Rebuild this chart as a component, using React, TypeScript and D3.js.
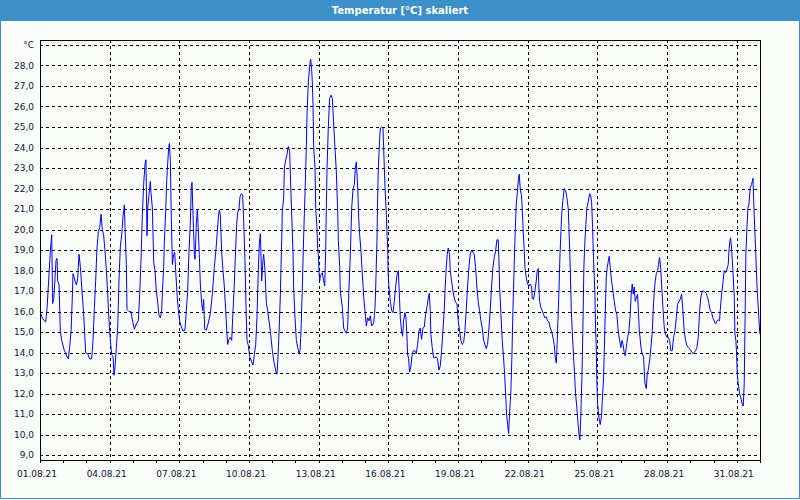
import { useEffect, useRef } from 'react';
import * as d3 from 'd3';

const chartTitle = 'Temperatur [°C] skaliert';
const unitLabel = '°C';
const startDate = new Date(2021, 7, 1);
const endDate = new Date(2021, 8, 1);
const yTicks = [9, 10, 11, 12, 13, 14, 15, 16, 17, 18, 19, 20, 21, 22, 23, 24, 25, 26, 27, 28];
const yMin = 8.77;
const yMax = 29.24;
const unitTickValue = 29;

// [hours since 01.08.21 00:00, temperature in °C]
const aug01to05: [number, number][] = [
  [0, 16.0], [2.4, 15.7], [4.5, 15.55], [5.9, 15.5], [7.3, 16.2], [9.3, 17.8], [10.7, 18.95], [12.1, 19.75],
  [13.1, 16.4], [14.2, 16.6], [16.6, 18.5], [17.6, 18.6], [18.3, 17.5], [19.7, 17.3], [21.0, 15.05], [22.4, 14.6],
  [25.2, 14.1], [27.9, 13.8], [29.3, 13.7], [30.7, 14.3], [32.1, 15.05], [33.4, 16.7], [34.1, 17.85], [36.2, 17.5],
  [37.6, 17.3], [38.9, 17.6], [40.3, 18.8], [41.7, 18.2], [43.1, 17.2], [45.1, 15.9], [47.2, 14.0], [49.3, 13.95],
  [51.3, 13.7], [53.4, 13.7], [54.8, 14.6], [56.2, 16.2], [57.5, 17.5], [58.9, 19.1], [60.3, 19.9], [61.7, 20.1],
  [63.1, 20.75], [64.4, 20.0], [65.8, 19.7], [67.2, 18.95], [68.6, 17.98], [70.0, 16.85], [71.3, 15.55], [72.7, 14.6],
  [74.1, 13.9], [75.5, 13.8], [76.5, 12.9], [77.5, 13.3], [78.9, 14.25], [80.3, 15.25], [81.6, 17.5], [83.0, 19.15],
  [84.4, 19.75], [85.8, 20.65], [87.2, 21.2], [87.8, 20.2], [89.2, 18.3], [89.9, 16.1], [92.0, 16.0], [94.0, 16.0],
  [95.4, 15.6], [97.5, 15.15], [99.6, 15.4], [101.6, 15.55], [103.0, 16.85], [104.4, 18.55], [105.8, 20.75], [107.1, 22.2],
  [108.5, 23.2], [109.5, 23.4], [110.6, 19.7], [111.3, 21.05], [112.6, 21.7], [114.0, 22.35], [114.7, 21.8], [116.1, 21.05],
  [117.5, 18.4], [118.8, 18.0], [120.2, 17.0], [121.6, 16.45],
];

const aug06to10: [number, number][] = [
  [123.0, 15.8], [124.4, 15.7], [125.7, 16.05], [126.4, 16.85], [127.8, 18.15], [128.5, 19.45], [129.9, 20.9], [130.9, 22.35],
  [131.9, 23.2], [133.0, 24.0], [133.7, 24.2], [134.7, 23.35], [135.7, 20.6], [136.8, 18.3], [138.1, 18.8], [139.2, 18.9],
  [140.2, 18.0], [141.6, 16.85], [143.0, 16.05], [144.3, 15.55], [145.7, 15.3], [147.8, 15.05], [149.8, 15.1], [151.2, 16.05],
  [152.6, 17.0], [154.0, 18.95], [155.4, 20.4], [156.4, 22.1], [157.1, 22.3], [158.1, 20.75], [159.5, 18.8], [160.2, 18.55],
  [161.6, 20.3], [162.6, 21.0], [163.6, 19.95], [164.6, 18.8], [165.7, 17.35], [167.1, 16.4], [168.1, 16.05], [169.1, 16.6],
  [170.2, 15.15], [171.9, 15.1], [173.9, 15.45], [176.0, 15.9], [178.1, 16.85], [180.1, 18.15], [181.9, 19.05], [182.9, 19.7],
  [184.3, 20.6], [185.3, 20.95], [186.3, 20.75], [187.7, 18.9], [189.1, 18.0], [190.5, 17.2], [191.9, 16.05], [193.2, 14.9],
  [193.9, 14.4], [195.3, 14.65], [196.7, 14.75], [198.1, 14.6], [199.1, 15.7], [200.5, 17.05], [201.8, 18.6], [203.2, 20.25],
  [204.3, 20.85], [205.6, 21.0], [206.7, 21.6], [208.0, 21.75], [209.4, 21.7], [210.5, 20.4], [211.8, 18.5], [212.9, 16.2],
  [213.9, 14.6], [215.3, 14.35], [216.7, 13.8], [218.7, 13.55], [220.1, 13.4], [221.5, 13.9], [222.9, 14.4], [224.2, 15.7],
  [225.6, 18.0], [226.6, 19.3], [227.7, 19.8], [229.1, 17.5], [230.4, 18.5], [231.1, 18.8], [232.5, 18.0], [233.9, 16.4],
  [235.3, 16.05], [236.6, 15.55], [238.0, 15.05], [240.1, 14.1], [242.1, 13.45], [243.9, 13.05], [244.9, 12.95], [245.9, 13.75],
  [247.0, 14.95],
];

const aug11to15: [number, number][] = [
  [248.4, 16.85], [249.7, 19.45], [250.4, 20.9], [251.8, 21.55], [252.5, 23.0], [253.9, 23.4], [255.2, 23.65], [256.6, 24.05],
  [258.0, 23.8], [258.7, 22.7], [260.1, 20.75], [261.4, 18.95], [262.1, 17.2], [263.5, 15.7], [264.9, 14.6], [266.3, 14.25],
  [267.6, 13.95], [268.7, 14.1], [269.7, 15.05], [271.1, 17.2], [272.5, 19.75], [273.8, 21.7], [275.2, 24.0], [275.9, 25.6],
  [277.3, 27.2], [278.7, 28.0], [279.7, 28.3], [280.7, 27.8], [281.4, 27.2], [282.1, 26.1], [282.8, 24.0], [284.2, 23.0],
  [284.9, 21.05], [286.2, 20.1], [286.9, 19.1], [287.6, 18.8], [288.3, 18.0], [289.0, 17.5], [289.7, 17.7], [290.4, 17.8],
  [291.8, 17.9], [293.1, 17.5], [294.2, 17.25], [295.2, 18.95], [295.9, 21.05], [296.6, 23.0], [297.9, 24.95], [299.3, 26.4],
  [300.7, 26.55], [302.1, 26.4], [303.5, 25.1], [304.8, 24.0], [306.2, 22.85], [307.6, 20.9], [308.3, 19.45], [309.7, 18.15],
  [310.3, 17.0], [312.4, 16.2], [313.8, 15.2], [315.2, 15.05], [316.5, 14.95], [317.9, 15.2], [319.3, 17.2], [320.7, 18.8],
  [322.1, 21.05], [323.4, 21.95], [324.8, 22.2], [325.8, 23.0], [326.9, 23.3], [328.3, 22.05], [329.3, 20.6], [330.3, 19.75],
  [331.7, 18.95], [333.1, 17.8], [334.5, 16.7], [335.8, 16.05], [337.2, 15.3], [338.6, 15.7], [340.0, 15.55], [341.3, 15.8],
  [342.7, 15.3], [344.8, 15.45], [346.2, 16.2], [346.9, 17.2], [348.2, 19.45], [348.9, 21.55], [349.6, 23.0], [351.0, 24.45],
  [351.7, 24.95], [353.1, 25.0], [354.4, 24.95], [355.1, 24.0], [356.5, 22.05], [357.9, 20.75], [358.6, 19.75], [359.3, 19.1],
  [359.6, 18.0], [360.6, 17.2], [362.0, 16.5], [363.4, 16.05], [364.8, 15.95], [366.1, 16.5], [367.5, 17.2], [368.9, 17.8],
  [370.3, 18.0],
];

const aug16to20: [number, number][] = [
  [371.2, 17.0], [372.3, 15.7], [373.6, 15.05], [374.7, 14.8], [375.7, 15.55], [377.1, 15.95], [378.1, 15.7], [379.1, 14.9],
  [379.8, 13.95], [380.9, 13.7], [381.9, 13.05], [383.3, 13.35], [384.7, 13.95], [386.0, 14.1], [387.4, 14.1], [388.8, 13.95],
  [390.2, 14.4], [391.5, 15.05], [392.9, 15.2], [394.3, 14.65], [395.7, 15.2], [397.1, 15.25], [398.4, 15.85], [399.8, 16.2],
  [401.2, 16.65], [402.2, 16.9], [403.3, 16.05], [403.9, 14.9], [405.3, 14.25], [406.7, 13.75], [408.1, 13.75], [409.5, 13.8],
  [410.8, 13.7], [412.2, 13.15], [413.6, 13.35], [415.0, 14.1], [416.3, 15.05], [417.7, 16.05], [418.7, 17.2], [419.8, 18.15],
  [420.8, 18.8], [421.8, 19.1], [423.2, 18.8], [423.9, 18.0], [425.3, 17.5], [426.7, 17.0], [428.0, 16.7], [429.4, 16.45],
  [430.8, 16.4], [432.2, 15.55], [433.6, 15.05], [434.9, 14.6], [436.3, 14.4], [437.7, 14.5], [439.1, 15.05], [440.4, 16.05],
  [441.8, 17.2], [443.2, 18.15], [444.6, 18.8], [446.0, 19.0], [447.3, 18.9], [448.7, 18.8], [450.1, 18.15], [451.5, 17.2],
  [452.8, 16.5], [454.2, 16.05], [455.6, 15.55], [457.0, 15.2], [458.4, 14.6], [459.7, 14.4], [461.1, 14.2], [462.5, 14.4],
  [463.9, 15.2], [465.2, 16.05], [466.6, 17.2], [468.0, 18.15], [469.4, 18.65], [470.8, 18.95], [472.1, 19.5], [473.5, 19.5],
  [474.2, 18.6], [474.9, 17.2], [476.3, 15.9], [477.6, 14.6], [479.0, 13.75], [480.1, 12.95], [481.1, 12.05], [482.1, 11.0],
  [483.2, 10.5], [484.2, 10.05], [485.2, 11.0], [486.6, 12.15], [487.6, 13.75], [488.7, 16.05], [490.0, 18.3], [491.1, 19.95],
  [492.1, 21.2], [493.5, 21.95], [494.5, 22.5], [495.2, 22.7],
];

const aug21to25: [number, number][] = [
  [496.3, 21.95], [497.6, 21.65], [498.3, 21.0], [499.4, 19.85], [500.4, 18.95], [501.1, 18.15], [502.5, 17.65], [503.8, 17.35],
  [505.2, 17.25], [506.6, 17.35], [508.0, 17.2], [508.7, 16.65], [510.0, 16.6], [511.4, 17.0], [512.8, 17.5], [513.8, 18.0],
  [514.9, 18.1], [515.5, 17.2], [516.2, 16.5], [517.6, 16.2], [519.0, 16.05], [520.4, 15.85], [521.7, 15.7], [523.1, 15.75],
  [524.5, 15.55], [525.9, 15.5], [527.3, 15.2], [528.6, 15.05], [530.0, 14.75], [531.4, 14.4], [532.4, 13.75], [533.5, 13.5],
  [534.1, 14.1], [535.2, 15.55], [536.2, 16.9], [537.2, 18.6], [538.3, 19.9], [539.3, 20.9], [540.3, 21.4], [541.7, 22.0],
  [543.1, 21.9], [544.5, 21.55], [545.9, 21.0], [546.5, 20.2], [547.9, 18.15], [549.0, 16.05], [550.0, 15.05], [551.4, 13.75],
  [552.4, 12.95], [553.4, 12.0], [554.8, 11.3], [555.8, 10.65], [556.9, 10.05], [557.9, 9.75], [558.9, 11.0], [560.0, 12.8],
  [561.0, 15.2], [562.0, 18.15], [563.1, 19.45], [564.1, 20.25], [565.1, 21.05], [566.5, 21.35], [567.9, 21.75], [568.9, 21.7],
  [570.0, 21.35], [571.0, 20.1], [572.0, 18.55], [573.4, 16.85], [574.1, 15.2], [574.8, 14.25], [575.5, 12.45], [576.2, 11.5],
  [577.2, 11.0], [578.2, 10.65], [578.9, 10.5], [580.3, 10.95], [581.0, 11.65], [582.4, 12.8], [583.0, 13.95], [584.1, 15.9],
  [585.1, 17.65], [586.1, 18.15], [587.2, 18.45], [588.2, 18.7], [589.2, 18.15], [590.6, 17.5], [592.0, 17.0], [593.4, 16.5],
  [594.8, 16.05], [596.1, 15.85], [597.5, 15.05], [598.9, 14.6], [600.3, 14.25], [601.3, 14.6], [602.3, 14.45], [603.7, 14.0],
  [604.7, 13.85], [605.8, 14.25], [607.2, 14.75], [608.5, 15.05], [609.9, 15.85], [610.9, 16.85], [612.0, 17.35], [613.0, 16.85],
  [614.0, 17.2], [615.1, 16.5], [616.1, 16.65], [617.5, 16.85], [618.5, 15.85], [619.2, 15.15],
];

const aug26to31: [number, number][] = [
  [621.0, 14.25], [622.3, 13.95], [623.7, 13.8], [624.4, 13.15], [625.1, 12.5], [626.5, 12.25], [627.5, 12.95], [628.5, 13.15],
  [629.9, 13.6], [631.3, 14.25], [632.7, 15.05], [634.0, 16.45], [635.4, 17.35], [636.8, 17.85], [638.2, 18.0], [639.2, 18.3],
  [640.2, 18.65], [641.3, 18.15], [642.3, 17.35], [643.7, 16.2], [645.1, 15.2], [646.4, 14.9], [647.8, 14.75], [649.2, 14.75],
  [650.6, 14.6], [651.9, 14.1], [653.3, 14.1], [654.7, 14.75], [656.1, 15.05], [657.5, 15.7], [658.8, 16.35], [660.2, 16.5],
  [661.6, 16.6], [663.0, 16.85], [664.3, 16.05], [665.7, 15.05], [667.1, 14.6], [668.5, 14.35], [669.9, 14.25], [671.2, 14.2],
  [672.6, 14.1], [674.7, 13.95], [676.0, 14.0], [677.4, 14.1], [678.8, 14.25], [680.2, 14.75], [681.6, 16.05], [682.9, 16.7],
  [684.3, 17.0], [685.7, 17.0], [687.1, 16.95], [688.4, 16.9], [689.8, 16.7], [691.2, 16.4], [692.6, 16.05], [694.0, 15.95],
  [695.3, 15.7], [696.7, 15.55], [698.1, 15.4], [699.5, 15.55], [700.8, 15.6], [702.2, 15.55], [702.9, 16.05], [704.3, 16.85],
  [705.7, 17.4], [707.0, 18.0], [708.4, 17.9], [709.8, 18.05], [711.2, 18.3], [711.9, 18.95], [712.9, 19.45], [713.6, 19.6],
  [714.6, 19.1], [716.0, 18.0], [717.4, 16.7], [718.1, 14.9], [719.1, 14.6], [719.8, 13.95], [720.5, 12.95], [721.5, 12.5],
  [722.9, 12.0], [724.3, 11.8], [725.6, 11.5], [726.7, 11.4], [727.7, 12.5], [728.4, 14.9], [729.4, 18.8], [730.5, 20.1],
  [731.5, 21.05], [732.5, 21.2], [733.9, 22.05], [735.3, 22.2], [736.7, 22.5], [738.0, 20.75], [739.4, 19.1], [740.8, 17.35],
  [742.2, 16.2], [743.6, 15.05], [744.0, 14.9],
];

const readings = [...aug01to05, ...aug06to10, ...aug11to15, ...aug16to20, ...aug21to25, ...aug26to31];

const W = 800;
const H = 500;

export default function App() {
  const ref = useRef<SVGSVGElement | null>(null);

  useEffect(() => {
    if (!ref.current) return;
    const svg = d3.select(ref.current);
    svg.selectAll('*').remove();

    const plot = { left: 40, right: 760, top: 40, bottom: 460 };
    const frame = '#3d8fc7';
    const font = 'Tahoma, "DejaVu Sans", sans-serif';
    const textColor = '#10103a';

    const x = d3.scaleTime().domain([startDate, endDate]).range([plot.left, plot.right]);
    const y = d3.scaleLinear().domain([yMin, yMax]).range([plot.bottom, plot.top]);
    const px = (v: number) => Math.round(v) + 0.5;

    svg.append('rect').attr('width', W).attr('height', H).attr('fill', '#fbfdfb');
    svg.append('rect').attr('x', 0.5).attr('y', 0.5).attr('width', W - 1).attr('height', H - 2)
      .attr('fill', 'none').attr('stroke', frame);
    svg.append('rect').attr('width', W).attr('height', 21).attr('fill', frame);
    svg.append('text').attr('x', W / 2).attr('y', 14).attr('text-anchor', 'middle')
      .attr('fill', '#ffffff').attr('font-family', font).attr('font-size', 10).attr('font-weight', 'bold')
      .text(chartTitle);

    const grid = svg.append('g').attr('stroke', '#000').attr('stroke-dasharray', '3,3').attr('stroke-width', 1);
    [...yTicks, unitTickValue].forEach((v) => {
      grid.append('line').attr('x1', plot.left).attr('x2', plot.right)
        .attr('y1', px(y(v))).attr('y2', px(y(v)));
    });
    const majorDays = d3.timeDay.every(3)!.range(startDate, endDate);
    majorDays.filter((d) => +d > +startDate).forEach((d) => {
      grid.append('line').attr('x1', px(x(d))).attr('x2', px(x(d)))
        .attr('y1', plot.top).attr('y2', plot.bottom);
    });

    const line = d3.line<[number, number]>()
      .x((d) => x(new Date(+startDate + d[0] * 3600e3)))
      .y((d) => y(d[1]));
    svg.append('defs').append('clipPath').attr('id', 'plotclip').append('rect')
      .attr('x', plot.left).attr('y', plot.top).attr('width', plot.right - plot.left).attr('height', plot.bottom - plot.top);
    svg.append('path').datum(readings).attr('d', line).attr('fill', 'none')
      .attr('stroke', '#0000ff').attr('stroke-width', 1).attr('clip-path', 'url(#plotclip)');

    svg.append('rect').attr('x', plot.left + 0.5).attr('y', plot.top + 0.5)
      .attr('width', plot.right - plot.left).attr('height', plot.bottom - plot.top)
      .attr('fill', 'none').attr('stroke', '#000').attr('stroke-width', 1);

    const xAxis = svg.append('g');
    d3.timeDay.range(startDate, d3.timeDay.offset(endDate, 1)).forEach((d) => {
      xAxis.append('line').attr('x1', px(x(d))).attr('x2', px(x(d)))
        .attr('y1', plot.bottom).attr('y2', plot.bottom + 3).attr('stroke', '#000');
    });
    const fmt = d3.timeFormat('%d.%m.%y');
    majorDays.forEach((d) => {
      xAxis.append('text').attr('x', x(d) - 3).attr('y', 477).attr('text-anchor', 'middle')
        .attr('font-family', font).attr('font-size', 9).attr('fill', textColor).text(fmt(d));
    });

    const yAxis = svg.append('g');
    yTicks.forEach((v) => {
      yAxis.append('text').attr('x', 34).attr('y', y(v)).attr('dy', '0.35em').attr('text-anchor', 'end')
        .attr('font-family', font).attr('font-size', 9).attr('fill', textColor).text(d3.format('.1f')(v).replace('.', ','));
    });
    yAxis.append('text').attr('x', 34).attr('y', y(unitTickValue)).attr('dy', '0.35em').attr('text-anchor', 'end')
      .attr('font-family', font).attr('font-size', 9).attr('fill', textColor).text(unitLabel);
  }, []);

  return (
    <div style={{ position: 'absolute', left: 0, top: 0 }}>
      <svg ref={ref} width={W} height={H} />
    </div>
  );
}
